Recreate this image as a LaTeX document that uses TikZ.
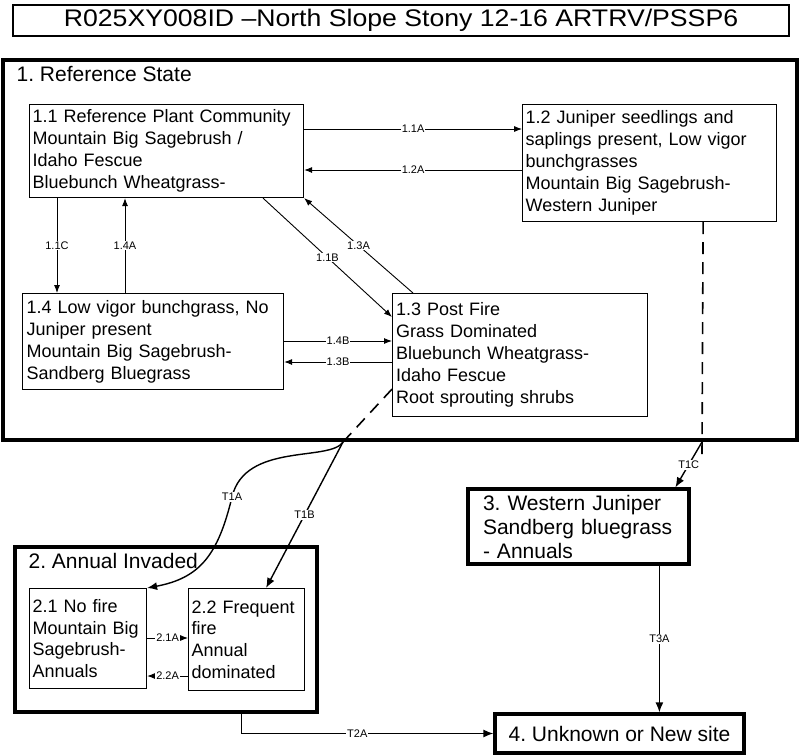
\documentclass[tikz,border=0pt]{standalone}
\usepackage{fontspec}
\setmainfont{Liberation Sans}
\frenchspacing
\usetikzlibrary{positioning,arrows.meta}
\tikzset{
  phase node/.style={rectangle,draw,line width=1.1pt,align=left,inner sep=0pt,font=\fontsize{18}{22}\selectfont},
  state node/.style={rectangle,draw,line width=3.2pt,align=left,inner sep=0pt,font=\fontsize{21}{24}\selectfont},
  state label/.style={anchor=north west,xshift=15pt,yshift=-8pt,inner sep=0pt,font=\fontsize{21}{24}\selectfont},
  trans/.style={line width=0.9pt,-{Latex[length=8pt,width=6pt]}},
  big trans/.style={line width=1.4pt,-{Latex[length=10pt,width=8pt]}},
  tlabel/.style={fill=white,inner sep=1pt,font=\fontsize{11}{11}\selectfont},
  fire line/.style={line width=1.6pt,dash pattern=on 12pt off 8pt},
}

\begin{document}
\begin{tikzpicture}[x=1pt,y=-1pt]
    \useasboundingbox (0,0) rectangle (800,755);
    \node[draw,line width=1.3pt,minimum width=776pt,minimum height=31pt,font=\fontsize{24}{24}\selectfont] (T) at (401,20.5) {\scalebox{1.11}[1]{R025XY008ID –North Slope Stony 12-16 ARTRV/PSSP6}};

    % states
    \node[state node,minimum width=794pt,minimum height=380pt,label={[state label]north west:1. Reference State}] (S1) at (400,250) {};
    \node[state node,minimum width=302pt,minimum height=165pt,label={[state label]north west:2. Annual Invaded}] (S2) at (166,629.5) {};
    \node[state node,minimum width=221pt,minimum height=75pt,text width=191pt] (S3) at (578.5,526.5) {3. Western Juniper\\Sandberg bluegrass\\- Annuals};
    \node[state node,minimum width=249pt,minimum height=39pt] (S4) at (619.5,733.5) {4. Unknown or New site};

    % phases
    \node[phase node,minimum width=274pt,minimum height=93pt,text width=268pt,anchor=north west] (11) at (29,104) {1.1 Reference Plant Community\\Mountain Big Sagebrush /\\Idaho Fescue\\Bluebunch Wheatgrass-};
    \node[phase node,minimum width=254pt,minimum height=117pt,text width=248pt,right=218pt of 11.north east,anchor=north west] (12) {1.2 Juniper seedlings and\\saplings present, Low vigor\\bunchgrasses\\Mountain Big Sagebrush-\\Western Juniper};
    \node[phase node,minimum width=255pt,minimum height=123pt,text width=248pt,anchor=north west] (13) at (392,293) {1.3 Post Fire\\Grass Dominated\\Bluebunch Wheatgrass-\\Idaho Fescue\\Root sprouting shrubs};
    \node[phase node,minimum width=261pt,minimum height=96pt,text width=253pt,anchor=north west] (14) at (22,293) {1.4 Low vigor bunchgrass, No\\Juniper present\\Mountain Big Sagebrush-\\Sandberg Bluegrass};
    \node[phase node,minimum width=117pt,minimum height=100pt,text width=111pt,anchor=north west,font=\fontsize{18}{21.7}\selectfont] (21) at (29,588) {2.1 No fire\\Mountain Big\\Sagebrush-\\Annuals};
    \node[phase node,minimum width=116pt,minimum height=102pt,text width=110pt,right=41pt of 21.north east,anchor=north west,font=\fontsize{18}{21.7}\selectfont] (22) {2.2 Frequent\\fire\\Annual\\dominated};

    % transitions within states
    \path[trans]
    ([yshift=-25pt]11.north east) edge node[tlabel] {1.1A} ([yshift=-25pt]12.north west)
    ([yshift=-66pt]12.north west) edge node[tlabel] {1.2A} ([yshift=-66pt]11.north east)
    ([xshift=28pt]11.south west) edge node[tlabel] {1.1C} ([xshift=35pt]14.north west)
    ([xshift=103pt]14.north west) edge node[tlabel] {1.4A} ([xshift=96pt]11.south west)
    ([xshift=234pt]11.south west) edge node[tlabel] {1.1B} ([yshift=-24pt]13.north west)
    ([xshift=21pt]13.north west) edge node[tlabel] {1.3A} (11.south east)
    ([yshift=-48pt]14.north east) edge node[tlabel] {1.4B} ([yshift=-48pt]13.north west)
    ([yshift=-69pt]13.north west) edge node[tlabel] {1.3B} ([yshift=-69pt]14.north east)
    ([yshift=-50pt]21.north east) edge node[tlabel] {2.1A} ([yshift=-50pt]22.north west)
    ([yshift=-88pt]22.north west) edge node[tlabel] {2.2A} ([yshift=-88pt]21.north east);

    % transitions between states
    \coordinate (x1) at (343,442);
    \coordinate (x2) at (702,442);
    \draw[fire line] ([yshift=28pt]13.south west) -- (x1);
    \draw[fire line] ([xshift=181pt]12.south west) -- ([yshift=-12pt]x2);
    \draw[big trans] (x2) -- node[tlabel] {T1C} ([xshift=209pt]S3.north west);
    \draw[big trans] (x1) .. controls (330,462) and (245,442) .. (232,497) node[tlabel] {T1A} .. controls (218,555) and (200,578) .. (21.north east);
    \draw[big trans] (x1) -- node[tlabel] {T1B} ([xshift=78pt]22.north west);
    \draw[big trans] ([xshift=193pt]S3.south west) -- node[tlabel] {T3A} ([xshift=166pt]S4.north west);
    \draw[big trans] ([xshift=228pt]S2.south west) |- node[tlabel,pos=0.73] {T2A} (S4.west);
\end{tikzpicture}
\end{document}
